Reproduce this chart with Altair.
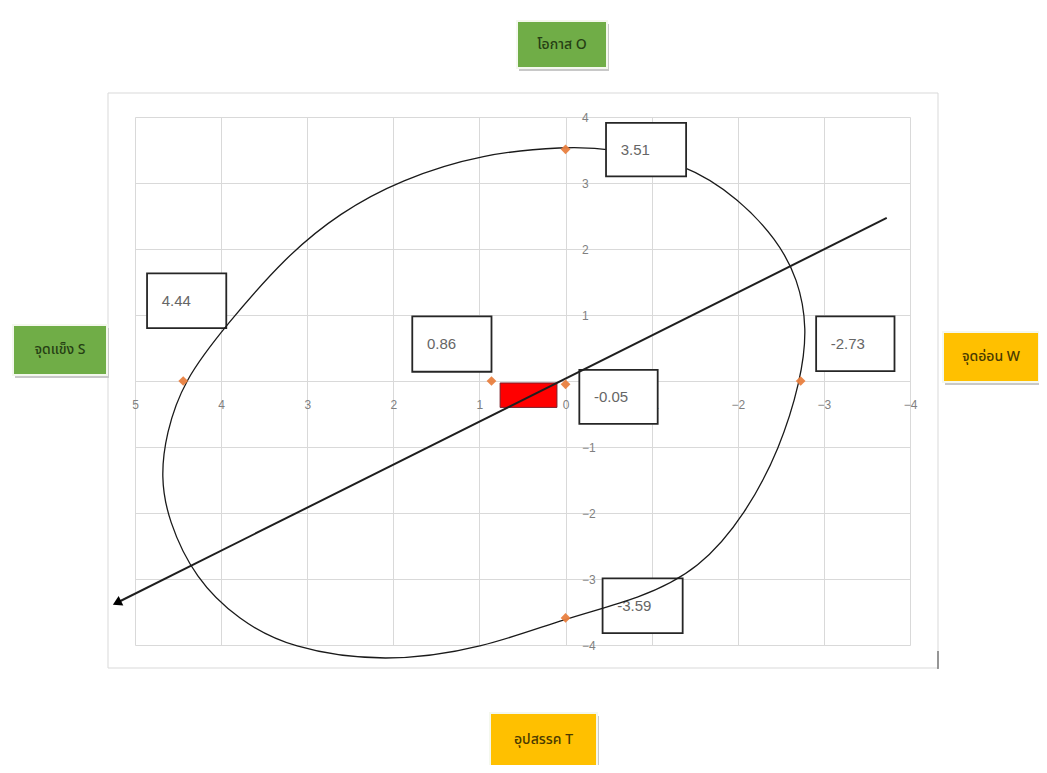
import altair as alt
import pandas as pd
import math

# ---------------- data ----------------
# SWOT summary points (x = S/W axis, y = O/T axis)
pt_x = [4.44, 0.86, 0.0, -2.73, 0.0, 0.0]
pt_y = [0.0, 0.0, -0.05, 0.0, 3.51, -3.59]
pt_label = ["4.44", "0.86", "-0.05", "-2.73", "3.51", "-3.59"]

# ellipse outline (closed curve, in drawing order)
ell_x = [0.0, -0.5, -1.4, -2.02, -2.45, -2.70, -2.81, -2.73, -2.49, -2.10, -1.56, -0.86,
         0.0, 0.95, 2.1, 3.20, 3.80, 4.30, 4.62, 4.70, 4.64, 4.44, 3.94, 3.24, 2.62, 1.92, 0.95]
ell_y = [3.55, 3.53, 3.30, 2.75, 2.15, 1.55, 0.80, 0.0, -1.02, -2.0, -2.85, -3.30,
         -3.59, -4.05, -4.27, -4.05, -3.62, -3.0, -2.1, -1.45, -0.8, 0.0, 0.85, 1.90, 2.55, 3.05, 3.45]

# strategy arrow (start, end = arrow tip)
arrow_x = [-3.73, 5.21]
arrow_y = [2.47, -3.36]

# red position rectangle
red_x = [0.10, 0.76]
red_y = [-0.40, -0.03]

# axis ticks
x_ticks = [5, 4, 3, 2, 1, 0, -1, -2, -3, -4]
y_ticks = [4, 3, 2, 1, 0, -1, -2, -3, -4]

# quadrant captions
quad_text = ["โอกาส O", "จุดแข็ง S", "จุดอ่อน W", "อุปสรรค T"]

# ---------------- layout (not data) ----------------
W, H = 775, 528
PAD_L, PAD_T = 127, 109
PAD_R = 1031 - PAD_L - W
PAD_B = 757 - PAD_T - H

# value label boxes (x1, x2, y1, y2 in axis units) and which lie above the ellipse
box_pos = [
    (4.86, 3.94, 1.63, 0.80, 0),
    (1.78, 0.86, 0.98, 0.14, 0),
    (-0.16, -1.07, 0.17, -0.65, 0),
    (-2.91, -3.82, 0.98, 0.15, 0),
    (-0.47, -1.40, 3.91, 3.10, 1),
    (-0.43, -1.36, -2.99, -3.82, 0),
]
boxes = pd.DataFrame({
    "label": pt_label,
    "x1": [b[0] for b in box_pos],
    "x2": [b[1] for b in box_pos],
    "y1": [b[2] for b in box_pos],
    "y2": [b[3] for b in box_pos],
    "top": [b[4] for b in box_pos],
})
boxes["tx"] = boxes["x1"] - 0.17
boxes["ty"] = (boxes["y1"] + boxes["y2"]) / 2

# quadrant caption boxes in pixels relative to the plot origin
quad_pos = [
    (382, 472, -96, -49, "#70AD47", "#263f14"),
    (-122, -28, 208, 258, "#70AD47", "#263f14"),
    (808, 904, 215, 265, "#FFC000", "#4a3a00"),
    (355, 462, 596, 650, "#FFC000", "#4a3a00"),
]

xs = alt.Scale(domain=[-4, 5], reverse=True, nice=False, zero=False)
ys = alt.Scale(domain=[-4, 4], nice=False, zero=False)

x0_px = 5 / 9 * W
y0_px = H / 2

label_font = "Liberation Sans Narrow, Liberation Sans, sans-serif"
thai_font = "Noto Sans Thai, Noto Sans Thai UI, Noto Sans, DejaVu Sans, sans-serif"

one = pd.DataFrame({"a": [0]})

# frame around the whole chart area (outline only)
frame = alt.Chart(one).mark_rect(filled=False, stroke="#d9d9d9", strokeWidth=1).encode(
    x=alt.value(-27), x2=alt.value(803), y=alt.value(-24), y2=alt.value(551)
)
corner = alt.Chart(one).mark_rule(color="#404040", strokeWidth=1).encode(
    x=alt.value(803), y=alt.value(534), y2=alt.value(552)
)

pts_df = pd.DataFrame({"x": pt_x, "y": pt_y})

base_axes = alt.Chart(pts_df).mark_point(opacity=0).encode(
    x=alt.X("x:Q", scale=xs, axis=alt.Axis(
        values=x_ticks, format="d", orient="bottom", offset=-y0_px, grid=True,
        gridColor="#d9d9d9", gridWidth=1, domain=False, ticks=False, labelPadding=18,
        labelColor="#7f7f7f", labelFontSize=12, labelFont=label_font, labelFlush=False,
        labelOverlap=False, title=None)),
    y=alt.Y("y:Q", scale=ys, axis=alt.Axis(
        values=y_ticks, format="d", orient="right", offset=-(W - x0_px), grid=True,
        gridColor="#d9d9d9", gridWidth=1, domain=False, ticks=False, labelPadding=16,
        labelColor="#7f7f7f", labelFontSize=12, labelFont=label_font, labelFlush=False,
        labelOverlap=False, title=None)),
)

ell_df = pd.DataFrame({"x": ell_x, "y": ell_y, "i": list(range(len(ell_x)))})
ellipse = alt.Chart(ell_df).mark_line(
    interpolate="basis-closed", color="#1a1a1a", strokeWidth=1.3
).encode(x=alt.X("x:Q", scale=xs), y=alt.Y("y:Q", scale=ys), order="i:Q")

box_rect = alt.Chart(boxes).mark_rect(fill="white", stroke="#262626", strokeWidth=1.8).encode(
    x=alt.X("x1:Q", scale=xs), x2="x2:Q", y=alt.Y("y1:Q", scale=ys), y2="y2:Q"
)
box_text = alt.Chart(boxes).mark_text(
    align="left", baseline="middle", fontSize=15, font="Liberation Sans, sans-serif",
    color="#666666"
).encode(x=alt.X("tx:Q", scale=xs), y=alt.Y("ty:Q", scale=ys), text="label:N")

boxes_below = box_rect.transform_filter("datum.top == 0")
boxes_above = box_rect.transform_filter("datum.top == 1")
text_below = box_text.transform_filter("datum.top == 0")
text_above = box_text.transform_filter("datum.top == 1")

red_df = pd.DataFrame({"x1": [red_x[0]], "x2": [red_x[1]], "y1": [red_y[0]], "y2": [red_y[1]]})
red = alt.Chart(red_df).mark_rect(fill="#FF0000", stroke="#7a1f2a", strokeWidth=1).encode(
    x=alt.X("x1:Q", scale=xs), x2="x2:Q", y=alt.Y("y1:Q", scale=ys), y2="y2:Q"
)

arrow_df = pd.DataFrame({"x": arrow_x, "y": arrow_y, "i": [0, 1]})
arrow_line = alt.Chart(arrow_df).mark_line(color="#1f1f1f", strokeWidth=2).encode(
    x=alt.X("x:Q", scale=xs), y=alt.Y("y:Q", scale=ys), order="i:Q"
)
# arrowhead direction in screen space
dx_px = -(arrow_x[1] - arrow_x[0]) * W / 9
dy_px = -(arrow_y[1] - arrow_y[0]) * H / 8
ang = (math.degrees(math.atan2(dx_px, -dy_px)) + 360) % 360
head = alt.Chart(arrow_df.iloc[[1]]).mark_point(
    shape="triangle-up", filled=True, size=110, angle=ang, color="#000000", opacity=1
).encode(x=alt.X("x:Q", scale=xs), y=alt.Y("y:Q", scale=ys))

points = alt.Chart(pts_df).mark_point(
    shape="diamond", filled=True, size=95, color="#E9803F", opacity=0.95
).encode(x=alt.X("x:Q", scale=xs), y=alt.Y("y:Q", scale=ys))

quad_layers = []
for (x1, x2, y1, y2, fill, tcol), txt in zip(quad_pos, quad_text):
    quad_layers.append(alt.Chart(one).mark_rect(fill="#c8c8c8").encode(
        x=alt.value(x1 + 2), x2=alt.value(x2 + 2), y=alt.value(y1 + 3), y2=alt.value(y2 + 3)))
    quad_layers.append(alt.Chart(one).mark_rect(fill=fill, stroke="#f4f8ee", strokeWidth=2).encode(
        x=alt.value(x1), x2=alt.value(x2), y=alt.value(y1), y2=alt.value(y2)))
    quad_layers.append(alt.Chart(one).mark_text(
        text=txt, fontSize=14, fontWeight=500, font=thai_font, color=tcol,
        align="center", baseline="middle").encode(
        x=alt.value((x1 + x2) / 2), y=alt.value((y1 + y2) / 2)))

chart = alt.layer(
    frame, corner, base_axes, boxes_below, text_below, ellipse, boxes_above, text_above,
    red, arrow_line, head, points, *quad_layers
).properties(
    width=W, height=H,
    autosize=alt.AutoSizeParams(type="none"),
    padding={"left": PAD_L, "top": PAD_T, "right": PAD_R, "bottom": PAD_B},
    background="white",
).configure_view(stroke=None)

chart.save("out.html", embed_options={"renderer": "svg", "actions": False})
